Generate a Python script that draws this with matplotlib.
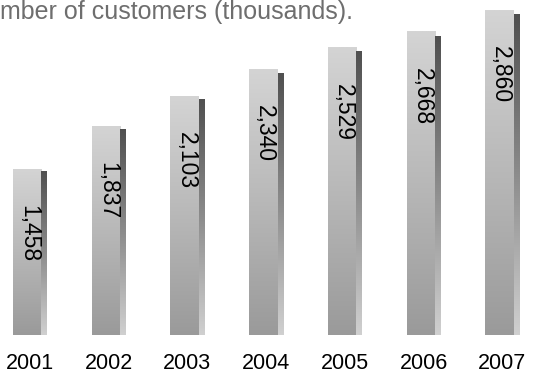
import numpy as np
import matplotlib.pyplot as plt
from matplotlib.colors import LinearSegmentedColormap

# data
years = ['2001', '2002', '2003', '2004', '2005', '2006', '2007']
customers = [1458, 1837, 2103, 2340, 2529, 2668, 2860]
title = 'mber of customers (thousands).'  # the part visible in the source

plt.rcParams['font.family'] = ['Liberation Sans', 'DejaVu Sans']

fig = plt.figure(figsize=(5.47, 3.74), dpi=100)
ax = fig.add_axes([0, 39 / 374, 1, 1 - 39 / 374])

x = np.arange(len(years))
bars = ax.bar(x, customers, width=0.43, color='none', edgecolor='none')

# gradients: front face lighter at top, side strip dark at top
front = LinearSegmentedColormap.from_list('front', ['#9a9a9a', '#b8b8b8', '#d4d4d4'])
side = LinearSegmentedColormap.from_list('side', ['#d0d0d0', '#8c8c8c', '#505050'])
grad = np.linspace(0, 1, 256).reshape(-1, 1)
for b in bars:
    x0, w, h = b.get_x(), b.get_width(), b.get_height()
    ws = w * 0.16
    ax.imshow(grad, cmap=front, extent=[x0, x0 + w - ws, 0, h],
              origin='lower', aspect='auto', zorder=2)
    ax.imshow(grad, cmap=side, extent=[x0 + w - ws, x0 + w, 0, h * 0.985],
              origin='lower', aspect='auto', zorder=2)

for xi, v in zip(x, customers):
    ax.annotate(f'{v:,}', (xi, v), xytext=(-1, -26), textcoords='offset points',
                rotation=-90, ha='center', va='top', fontsize=16.5, color='black',
                zorder=3)

ax.set_xlim(-0.381, 6.569)
ax.set_ylim(0, 2948)
ax.set_xticks(x)
ax.set_xticklabels(years, fontsize=15.5)
ax.tick_params(axis='x', length=0, pad=13)
ax.set_yticks([])
for s in ax.spines.values():
    s.set_visible(False)

fig.text(0.5 / 547, 1 - 0.5 / 374, title, ha='left', va='top',
         color='#6e6e6e', fontsize=18)

fig.savefig('out.png', dpi=100)
